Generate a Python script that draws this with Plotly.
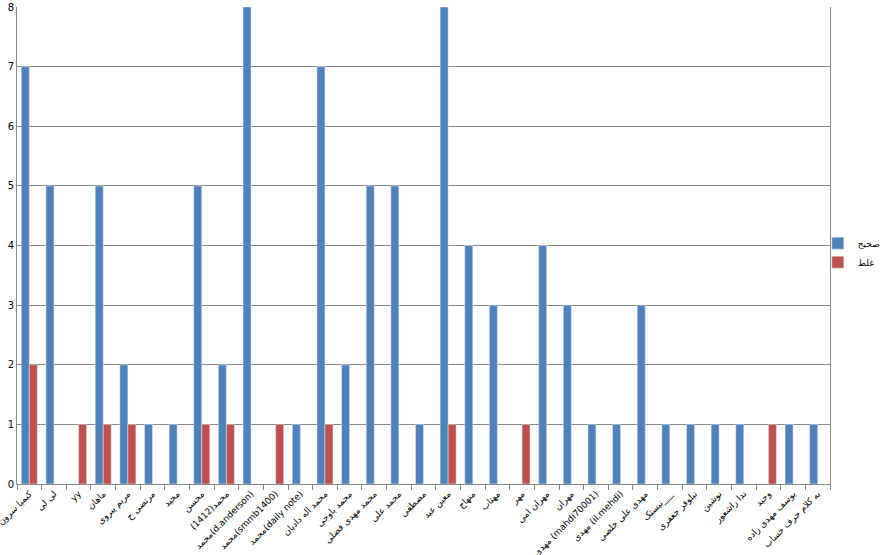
import plotly.graph_objects as go

categories = [
    "کیمیا سرون", "لی لی", "yy", "ماهان", "مریم پیروی", "مرتضی ح", "مجید", "محسن",
    "محمد(1412)", "محمد(d.anderson)", "محمد(smmb1400)", "محمد(daily note)",
    "محمد اله دادیان", "محمد باوجی", "محمد مهدی فضلی", "محمد علی", "مصطفی",
    "معین عید", "منهاج", "مهتاب", "مهر", "مهران امی", "مهران",
    "مهدی (mahdi70001)", "مهدی (il.mehdi)", "مهدی علی خلصی", "نیستک___",
    "نیلوفر جعفری", "نوشین", "ندا راشعور", "وحید", "یوسف مهدی زاده",
    "یه کلام حرف حساب",
]
correct = [7, 5, 0, 5, 2, 1, 1, 5, 2, 8, 0, 1, 7, 2, 5, 5, 1, 8, 4, 3, 0, 4, 3,
           1, 1, 3, 1, 1, 1, 1, 0, 1, 1]
wrong = [2, 0, 1, 1, 1, 0, 0, 1, 1, 0, 1, 0, 1, 0, 0, 0, 0, 1, 0, 0, 1, 0, 0,
         0, 0, 0, 0, 0, 0, 0, 1, 0, 0]
y_ticks = [0, 1, 2, 3, 4, 5, 6, 7, 8]

fig = go.Figure()
fig.add_trace(go.Bar(x=categories, y=correct, name="صحیح", marker_color="#4F81BD"))
fig.add_trace(go.Bar(x=categories, y=wrong, name="غلط", marker_color="#C0504D"))

fig.update_layout(
    width=886, height=555,
    margin=dict(l=17, r=56, t=7, b=71, autoexpand=False),
    paper_bgcolor="white", plot_bgcolor="white",
    barmode="group", bargap=0.35, bargroupgap=0,
    font=dict(family="DejaVu Sans, Liberation Sans", size=10, color="black"),
    legend=dict(x=0.985, y=0.485, xanchor="left", yanchor="middle",
                bgcolor="rgba(0,0,0,0)", font=dict(size=9),
                itemwidth=30, tracegroupgap=0),
    showlegend=True,
)
fig.update_xaxes(
    type="category", tickangle=-45, ticks="outside", tickson="boundaries",
    ticklen=5, tickcolor="#888", showline=True, linecolor="#888", linewidth=1,
    showgrid=False, tickfont=dict(size=9), automargin=False,
)
fig.update_yaxes(
    range=[0, 8], tickvals=y_ticks, showgrid=True, gridcolor="#888", gridwidth=1,
    showline=True, mirror=True, linecolor="#888", linewidth=1,
    ticks="", tickfont=dict(size=10), zeroline=False, automargin=False,
)

fig.write_html(
    "out.html",
    config={"displayModeBar": False},
    post_script="document.body.style.margin='0';document.body.style.overflow='hidden';",
)
